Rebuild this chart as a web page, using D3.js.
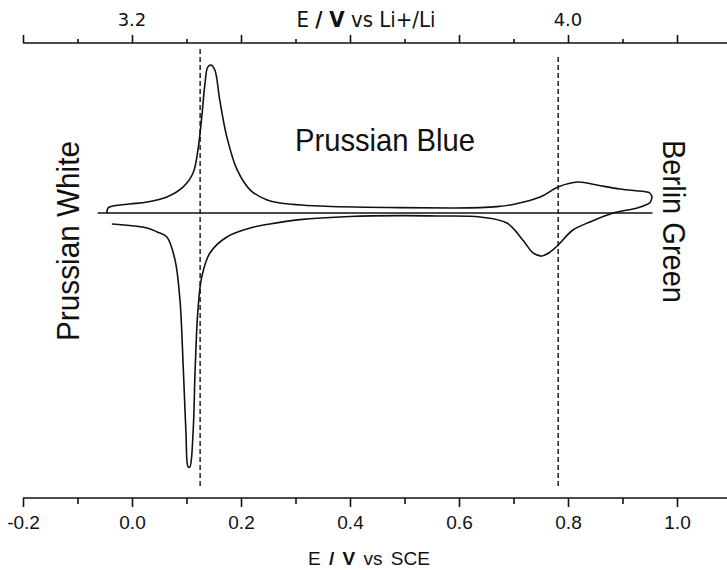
<!DOCTYPE html>
<html>
<head>
<meta charset="utf-8">
<script src="https://cdn.jsdelivr.net/npm/d3@7"></script>
<style>
  body { margin: 0; background: #fff; }
  svg { display: block; }
</style>
</head>
<body>
<div id="chart"></div>
<script>
// anodic sweep, E (V vs SCE) vs current (arb. units)
const anodicE = [-0.046, -0.044, -0.035, -0.004, 0.028, 0.064, 0.094, 0.112, 0.121, 0.128, 0.134, 0.139, 0.145, 0.152, 0.161, 0.174, 0.193, 0.217, 0.248, 0.272, 0.345, 0.492, 0.583, 0.639, 0.670, 0.699, 0.749, 0.782, 0.818, 0.853, 0.895, 0.945, 0.950, 0.954, 0.952];
const anodicI = [0, 0.034, 0.047, 0.061, 0.074, 0.108, 0.176, 0.270, 0.426, 0.649, 0.878, 0.986, 1.0, 0.966, 0.764, 0.514, 0.291, 0.155, 0.088, 0.068, 0.047, 0.036, 0.034, 0.036, 0.043, 0.058, 0.108, 0.176, 0.209, 0.189, 0.162, 0.142, 0.135, 0.108, 0.081];
// cathodic sweep, back from the right turning point
const cathodicE = [0.952, 0.950, 0.927, 0.883, 0.840, 0.809, 0.782, 0.767, 0.752, 0.736, 0.717, 0.688, 0.639, 0.560, 0.492, 0.400, 0.308, 0.253, 0.217, 0.174, 0.143, 0.128, 0.121, 0.116, 0.112, 0.106, 0.103, 0.099, 0.094, 0.088, 0.079, 0.064, 0.046, 0.028, -0.037];
const cathodicI = [0.081, 0.068, 0.034, 0, -0.061, -0.115, -0.216, -0.264, -0.291, -0.270, -0.182, -0.068, -0.027, -0.020, -0.018, -0.024, -0.045, -0.074, -0.101, -0.162, -0.270, -0.432, -0.655, -1.041, -1.486, -1.716, -1.716, -1.486, -1.041, -0.588, -0.318, -0.162, -0.128, -0.101, -0.074];

const sceMajor = [-0.2, 0.0, 0.2, 0.4, 0.6, 0.8, 1.0];
const sceMinor = [-0.1, 0.1, 0.3, 0.5, 0.7, 0.9];
const liMajor = [3.0, 3.2, 3.4, 3.6, 3.8, 4.0, 4.2];
const liMinor = [3.1, 3.3, 3.5, 3.7, 3.9, 4.1];
const liLabels = [3.2, 4.0];
const peakLines = [0.125, 0.782];
const zeroSpan = [-0.063, 0.955];

const width = 727, height = 570;

const x = d3.scaleLinear().domain([-0.2, 1.0]).range([23, 677]);
const xLi = x.copy().domain([3.0, 4.2]);
const y = d3.scaleLinear().domain([-2, 1]).range([509, 65]);

const svg = d3.select("#chart").append("svg")
    .attr("width", width)
    .attr("height", height);

const axisY = 498, topY = 43;
const fmt = d => d.toFixed(1);

// bottom axis
const gb = svg.append("g").attr("transform", `translate(0,${axisY})`);
gb.append("line")
    .attr("x1", x(-0.2)).attr("x2", width)
    .attr("stroke", "#111").attr("stroke-width", 1.6);
gb.append("g")
    .call(d3.axisBottom(x).tickValues(sceMinor).tickSize(6).tickFormat(""))
    .call(g => g.select(".domain").remove());
gb.append("g")
    .call(d3.axisBottom(x).tickValues(sceMajor).tickSize(9).tickPadding(9).tickFormat(fmt))
    .call(g => g.select(".domain").remove())
    .call(g => g.selectAll("text").style("font", "19px 'Liberation Sans', Arial, sans-serif").attr("fill", "#111"));
gb.selectAll(".tick line").attr("stroke", "#111").attr("stroke-width", 1.6);

// top axis (Li scale)
const gt = svg.append("g").attr("transform", `translate(0,${topY})`);
gt.append("line")
    .attr("x1", x(-0.2)).attr("x2", width)
    .attr("stroke", "#111").attr("stroke-width", 1.6);
gt.append("g")
    .call(d3.axisTop(xLi).tickValues(liMinor).tickSize(4).tickFormat(""))
    .call(g => g.select(".domain").remove());
gt.append("g")
    .call(d3.axisTop(xLi).tickValues(liMajor).tickSize(8).tickFormat(""))
    .call(g => g.select(".domain").remove());
gt.selectAll(".tick line").attr("stroke", "#111").attr("stroke-width", 1.6);
gt.selectAll("text.lbl")
    .data(liLabels)
    .join("text")
    .attr("class", "lbl")
    .attr("x", d => xLi(d))
    .attr("y", -17)
    .attr("text-anchor", "middle")
    .style("font", "18px 'DejaVu Sans', Verdana, sans-serif")
    .attr("fill", "#111")
    .text(fmt);

// axis titles
const topTitle = svg.append("text")
    .attr("x", 366).attr("y", 27)
    .attr("text-anchor", "middle")
    .style("font", "22px 'DejaVu Sans Condensed', 'DejaVu Sans', sans-serif")
    .attr("fill", "#111");
topTitle.append("tspan").text("E ");
topTitle.append("tspan").style("font-weight", "bold").text("/ V");
topTitle.append("tspan").text(" vs Li+/Li");

const botTitle = svg.append("text")
    .attr("x", 369).attr("y", 565)
    .attr("text-anchor", "middle")
    .style("font", "19px 'Liberation Sans', Arial, sans-serif")
    .style("word-spacing", "3px")
    .attr("fill", "#111");
botTitle.append("tspan").text("E ");
botTitle.append("tspan").style("font-weight", "bold").text("/ V");
botTitle.append("tspan").text(" vs SCE");

// dashed peak lines
svg.selectAll("line.peak")
    .data(peakLines)
    .join("line")
    .attr("class", "peak")
    .attr("x1", d => x(d)).attr("x2", d => x(d))
    .attr("y1", (d, i) => i === 0 ? 49 : 57)
    .attr("y2", 488)
    .attr("stroke", "#111")
    .attr("stroke-width", 1.4)
    .attr("stroke-dasharray", "5,3");

// zero current line
svg.append("line")
    .attr("x1", x(zeroSpan[0])).attr("x2", x(zeroSpan[1]))
    .attr("y1", y(0)).attr("y2", y(0))
    .attr("stroke", "#111").attr("stroke-width", 1.3);

const line = d3.line()
    .x(d => x(d[0]))
    .y(d => y(d[1]))
    .curve(d3.curveCatmullRom.alpha(0.5));

const anodic = anodicE.map((e, i) => [e, anodicI[i]]);
const cathodic = cathodicE.map((e, i) => [e, cathodicI[i]]);

svg.selectAll("path.cv")
    .data([anodic, cathodic])
    .join("path")
    .attr("class", "cv")
    .attr("d", line)
    .attr("fill", "none")
    .attr("stroke", "#111")
    .attr("stroke-width", 1.6);

// state labels
const big = "32px 'Liberation Sans', Arial, sans-serif";
svg.append("text")
    .attr("x", 295).attr("y", 151)
    .attr("textLength", 180).attr("lengthAdjust", "spacingAndGlyphs")
    .style("font", big).attr("fill", "#111")
    .text("Prussian Blue");
svg.append("text")
    .attr("transform", "translate(79,341) rotate(-90)")
    .attr("textLength", 200).attr("lengthAdjust", "spacingAndGlyphs")
    .style("font", big).attr("fill", "#111")
    .text("Prussian White");
svg.append("text")
    .attr("transform", "translate(663,140) rotate(90)")
    .attr("textLength", 163).attr("lengthAdjust", "spacingAndGlyphs")
    .style("font", big).attr("fill", "#111")
    .text("Berlin Green");
</script>
</body>
</html>
